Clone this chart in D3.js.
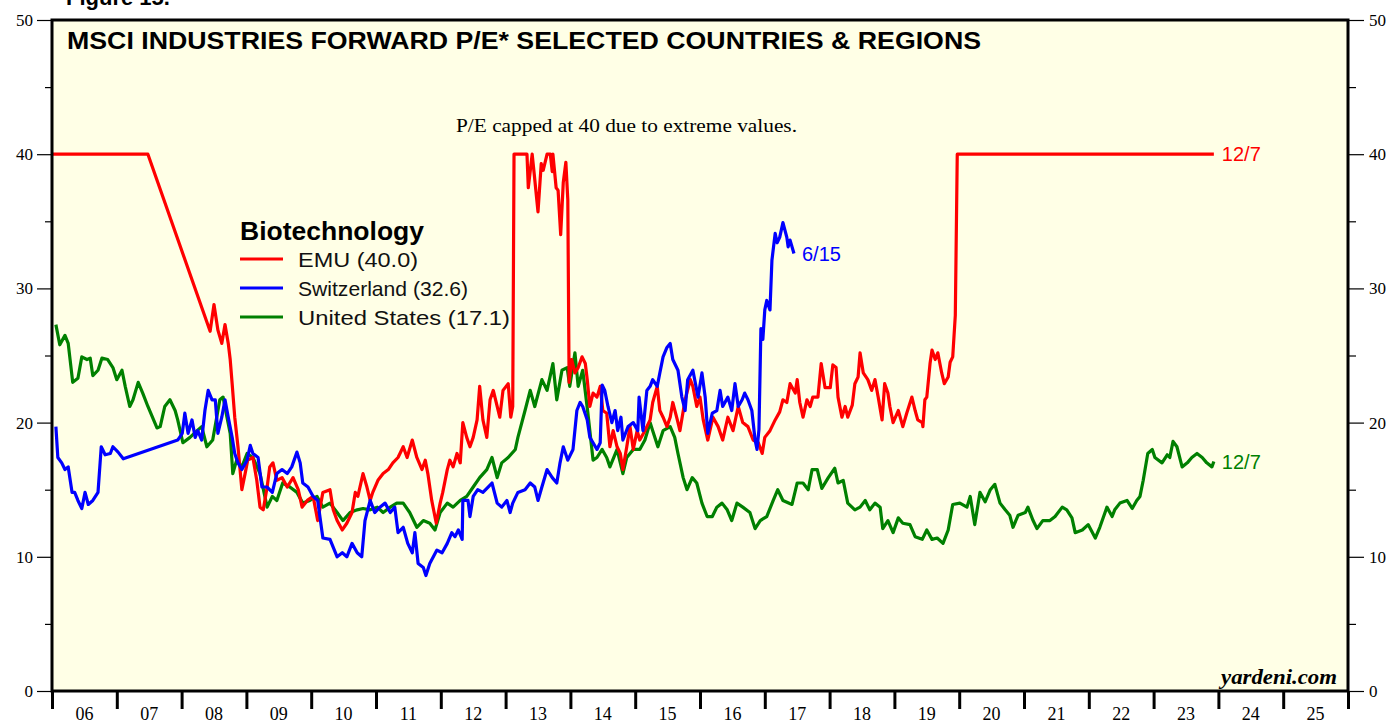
<!DOCTYPE html>
<html><head><meta charset="utf-8">
<script src="https://cdn.jsdelivr.net/npm/d3@7"></script>
<style>body{margin:0;background:#fff}svg{display:block}</style>
</head><body>
<svg id="c" width="1395" height="721"></svg>
<script>
const yearLabels = ["06","07","08","09","10","11","12","13","14","15","16","17","18","19","20","21","22","23","24","25"];
const yTicks = [0,10,20,30,40,50];
const seriesNames = ["EMU (40.0)","Switzerland (32.6)","United States (17.1)"];
const seriesColors = ["#ff0000","#0000ff","#008000"];
const endLabels = ["12/7","6/15","12/7"];

// [decimal year, forward P/E]
const emu = [[2006.0,40],[2007.48,40],[2008.44,26.8],[2008.50,28.8],[2008.56,26.9],[2008.62,25.9],[2008.67,27.3],[2008.72,25.9],[2008.75,24.7],[2008.78,22.9],[2008.82,20.4],[2008.87,18.2],[2008.93,15.0],[2008.98,16.2],[2009.02,17.2],[2009.10,17.4],[2009.16,15.7],[2009.21,13.7],[2009.26,13.5],[2009.32,15.2],[2009.36,16.7],[2009.41,17.0],[2009.47,15.7],[2009.55,15.9],[2009.63,15.2],[2009.72,15.9],[2009.80,15.0],[2009.86,13.7],[2009.94,14.2],[2010.03,14.5],[2010.10,12.7],[2010.18,14.8],[2010.29,15.0],[2010.34,13.5],[2010.40,12.7],[2010.48,12.0],[2010.55,12.5],[2010.63,13.3],[2010.68,14.8],[2010.72,14.5],[2010.80,16.2],[2010.86,15.2],[2010.91,14.2],[2010.95,14.8],[2011.03,15.7],[2011.11,16.2],[2011.19,16.5],[2011.26,17.0],[2011.34,17.4],[2011.42,18.2],[2011.48,17.4],[2011.56,18.7],[2011.63,17.4],[2011.71,16.5],[2011.76,17.2],[2011.80,16.2],[2011.86,14.2],[2011.93,12.5],[2011.99,14.0],[2012.03,14.8],[2012.10,16.5],[2012.14,17.2],[2012.19,16.7],[2012.25,17.7],[2012.30,17.0],[2012.34,20.0],[2012.40,18.9],[2012.45,18.2],[2012.50,18.9],[2012.56,20.2],[2012.60,22.7],[2012.65,20.2],[2012.71,18.9],[2012.76,21.7],[2012.81,22.4],[2012.87,21.2],[2012.91,20.4],[2012.96,22.4],[2013.04,22.9],[2013.08,20.4],[2013.11,21.2],[2013.13,40],[2013.33,40],[2013.35,37.5],[2013.41,40],[2013.44,38.6],[2013.50,35.7],[2013.55,39.3],[2013.58,38.8],[2013.64,40],[2013.69,40],[2013.72,38.7],[2013.73,40],[2013.78,37.5],[2013.81,37.3],[2013.85,34.0],[2013.89,37.9],[2013.93,39.4],[2013.96,36.6],[2013.98,23.0],[2014.02,24.7],[2014.07,23.7],[2014.12,24.1],[2014.18,24.9],[2014.23,24.4],[2014.26,23.2],[2014.30,21.2],[2014.35,22.2],[2014.41,21.9],[2014.46,22.7],[2014.50,20.9],[2014.56,20.7],[2014.61,18.2],[2014.66,19.4],[2014.72,18.2],[2014.77,17.7],[2014.81,16.5],[2014.87,18.2],[2014.92,19.7],[2014.97,18.0],[2015.03,19.4],[2015.07,18.7],[2015.15,19.4],[2015.23,20.2],[2015.27,21.5],[2015.34,22.7],[2015.38,20.9],[2015.43,20.4],[2015.49,19.7],[2015.54,20.4],[2015.58,21.5],[2015.65,20.2],[2015.69,19.4],[2015.77,21.7],[2015.85,23.2],[2015.89,22.7],[2015.95,21.2],[2016.00,21.9],[2016.05,20.2],[2016.12,18.7],[2016.20,20.4],[2016.28,19.7],[2016.35,18.7],[2016.43,20.4],[2016.51,19.4],[2016.59,21.2],[2016.66,20.0],[2016.74,19.7],[2016.82,18.7],[2016.90,18.5],[2016.96,17.7],[2017.00,18.9],[2017.08,19.4],[2017.16,20.2],[2017.23,20.8],[2017.28,21.7],[2017.34,21.5],[2017.39,22.9],[2017.47,22.2],[2017.50,23.2],[2017.54,21.5],[2017.59,20.4],[2017.65,21.7],[2017.70,21.2],[2017.74,21.9],[2017.82,21.9],[2017.87,24.4],[2017.93,22.6],[2018.01,22.6],[2018.05,24.3],[2018.10,24.1],[2018.13,21.9],[2018.19,20.4],[2018.24,21.2],[2018.28,20.4],[2018.35,21.3],[2018.39,22.9],[2018.44,23.4],[2018.47,25.2],[2018.52,23.7],[2018.59,23.2],[2018.65,22.4],[2018.70,23.2],[2018.75,21.9],[2018.81,20.2],[2018.85,22.9],[2018.90,22.2],[2018.93,21.2],[2018.98,20.0],[2019.06,20.9],[2019.13,19.7],[2019.19,20.7],[2019.27,21.9],[2019.32,20.9],[2019.36,20.2],[2019.43,20.0],[2019.44,19.7],[2019.47,21.7],[2019.50,21.9],[2019.55,24.4],[2019.58,25.4],[2019.63,24.7],[2019.67,25.2],[2019.73,23.7],[2019.77,22.9],[2019.83,23.4],[2019.86,24.5],[2019.90,24.9],[2019.94,28.0],[2019.97,40],[2023.93,40]];

const swiss = [[2006.06,19.7],[2006.09,17.4],[2006.15,17.0],[2006.20,16.5],[2006.25,16.7],[2006.31,14.8],[2006.35,14.8],[2006.40,14.2],[2006.46,13.6],[2006.51,14.8],[2006.56,13.9],[2006.63,14.2],[2006.71,14.8],[2006.76,18.2],[2006.82,17.6],[2006.90,17.7],[2006.94,18.2],[2007.02,17.8],[2007.10,17.3],[2007.94,18.7],[2008.01,19.2],[2008.05,20.7],[2008.10,19.2],[2008.16,20.2],[2008.21,18.9],[2008.25,19.4],[2008.31,18.7],[2008.36,20.9],[2008.41,22.4],[2008.47,21.7],[2008.52,21.7],[2008.56,19.2],[2008.62,20.4],[2008.67,21.7],[2008.72,20.4],[2008.78,18.9],[2008.82,17.7],[2008.87,17.0],[2008.93,16.5],[2009.01,17.2],[2009.06,18.3],[2009.10,17.7],[2009.18,17.4],[2009.24,15.2],[2009.32,15.2],[2009.40,14.8],[2009.47,16.2],[2009.55,16.5],[2009.63,16.2],[2009.70,16.7],[2009.78,17.8],[2009.83,17.0],[2009.87,15.5],[2009.95,15.2],[2010.03,14.5],[2010.10,14.2],[2010.18,11.4],[2010.29,11.3],[2010.40,10.0],[2010.48,10.3],[2010.55,10.0],[2010.63,11.0],[2010.71,10.3],[2010.78,10.0],[2010.83,12.7],[2010.91,14.2],[2010.98,13.3],[2011.06,13.7],[2011.14,14.0],[2011.22,13.3],[2011.29,13.7],[2011.34,11.8],[2011.42,12.2],[2011.49,11.0],[2011.56,10.3],[2011.60,11.8],[2011.65,9.5],[2011.73,9.2],[2011.77,8.6],[2011.83,9.5],[2011.94,10.5],[2012.02,10.3],[2012.10,11.0],[2012.17,11.8],[2012.22,11.5],[2012.27,12.0],[2012.33,11.3],[2012.34,14.2],[2012.42,14.2],[2012.45,13.0],[2012.50,14.5],[2012.57,15.0],[2012.65,14.8],[2012.73,15.2],[2012.79,15.5],[2012.87,14.0],[2012.94,13.7],[2013.02,14.2],[2013.07,13.3],[2013.11,14.0],[2013.19,14.8],[2013.30,15.0],[2013.38,15.5],[2013.45,15.2],[2013.50,14.2],[2013.56,15.2],[2013.64,16.5],[2013.72,15.9],[2013.79,15.5],[2013.84,17.0],[2013.89,18.2],[2013.96,17.2],[2014.04,18.0],[2014.10,20.9],[2014.15,21.5],[2014.19,21.2],[2014.26,20.2],[2014.30,18.9],[2014.35,18.5],[2014.41,18.0],[2014.46,18.5],[2014.49,22.8],[2014.53,22.4],[2014.58,21.2],[2014.64,20.0],[2014.69,20.9],[2014.73,19.4],[2014.78,20.4],[2014.81,18.7],[2014.89,19.7],[2014.97,20.0],[2015.04,19.4],[2015.06,21.9],[2015.12,19.4],[2015.18,22.4],[2015.23,22.7],[2015.27,23.2],[2015.34,22.7],[2015.38,23.7],[2015.43,24.9],[2015.49,25.6],[2015.54,25.9],[2015.58,24.7],[2015.66,23.9],[2015.72,21.9],[2015.77,20.9],[2015.81,23.2],[2015.89,23.9],[2015.97,21.9],[2016.03,23.7],[2016.08,21.9],[2016.12,19.2],[2016.19,20.7],[2016.26,20.9],[2016.31,22.4],[2016.35,21.2],[2016.43,21.9],[2016.49,20.9],[2016.54,22.9],[2016.59,21.2],[2016.65,21.7],[2016.69,22.2],[2016.74,21.7],[2016.80,20.9],[2016.85,18.7],[2016.88,18.0],[2016.91,19.5],[2016.94,27.0],[2016.97,26.2],[2017.00,28.4],[2017.03,29.1],[2017.08,28.4],[2017.11,32.1],[2017.16,34.1],[2017.19,33.4],[2017.23,33.8],[2017.28,34.9],[2017.34,33.8],[2017.36,33.1],[2017.39,33.6],[2017.45,32.6]];

const us = [[2006.06,27.3],[2006.12,25.8],[2006.20,26.5],[2006.25,25.9],[2006.32,23.0],[2006.40,23.3],[2006.46,24.9],[2006.54,24.7],[2006.59,24.8],[2006.63,23.5],[2006.71,23.9],[2006.77,24.8],[2006.86,24.7],[2006.94,24.1],[2007.00,23.2],[2007.08,23.9],[2007.13,22.7],[2007.20,21.2],[2007.25,21.7],[2007.33,23.0],[2007.40,22.2],[2007.48,21.2],[2007.62,19.6],[2007.67,19.7],[2007.74,21.2],[2007.82,21.7],[2007.90,20.9],[2007.94,20.2],[2008.02,18.5],[2008.13,18.9],[2008.24,19.4],[2008.31,19.7],[2008.39,18.2],[2008.48,18.7],[2008.59,21.7],[2008.64,21.9],[2008.70,20.4],[2008.75,19.2],[2008.79,16.2],[2008.85,17.2],[2008.93,16.7],[2009.01,17.7],[2009.10,17.4],[2009.21,16.2],[2009.32,13.7],[2009.40,14.5],[2009.47,14.2],[2009.56,15.5],[2009.67,15.2],[2009.78,14.8],[2009.87,14.0],[2009.98,14.2],[2010.09,14.5],[2010.18,13.7],[2010.29,14.0],[2010.40,13.3],[2010.49,12.7],[2010.60,13.3],[2010.71,13.5],[2010.80,13.6],[2010.91,13.5],[2011.02,13.7],[2011.11,13.3],[2011.22,13.7],[2011.32,14.0],[2011.42,14.0],[2011.52,13.3],[2011.63,12.2],[2011.73,12.7],[2011.83,12.5],[2011.91,12.0],[2011.99,13.3],[2012.10,14.0],[2012.19,13.7],[2012.30,14.2],[2012.40,14.5],[2012.50,15.2],[2012.60,15.9],[2012.71,16.5],[2012.79,17.4],[2012.87,15.9],[2012.94,17.0],[2013.04,17.4],[2013.15,18.0],[2013.19,18.9],[2013.30,20.9],[2013.38,22.4],[2013.45,21.2],[2013.56,23.2],[2013.64,22.4],[2013.73,24.4],[2013.79,21.7],[2013.87,23.9],[2013.95,24.1],[2013.99,22.7],[2014.07,25.2],[2014.12,22.7],[2014.19,23.9],[2014.27,20.7],[2014.35,17.2],[2014.41,17.4],[2014.49,18.0],[2014.56,17.4],[2014.61,16.7],[2014.72,18.0],[2014.81,16.2],[2014.87,17.4],[2014.97,18.0],[2015.07,18.0],[2015.15,18.7],[2015.23,20.0],[2015.27,19.4],[2015.35,18.2],[2015.43,19.4],[2015.54,19.7],[2015.61,18.9],[2015.66,17.7],[2015.74,15.9],[2015.80,15.0],[2015.88,15.9],[2015.95,15.5],[2016.03,14.0],[2016.11,13.0],[2016.19,13.0],[2016.26,13.7],[2016.34,14.0],[2016.42,13.5],[2016.49,12.7],[2016.57,14.0],[2016.66,13.7],[2016.77,13.3],[2016.85,12.1],[2016.93,12.7],[2017.03,13.0],[2017.13,14.2],[2017.20,15.0],[2017.28,14.2],[2017.42,13.9],[2017.50,15.5],[2017.59,15.5],[2017.67,15.0],[2017.73,16.5],[2017.81,16.5],[2017.88,15.1],[2017.98,15.9],[2018.08,16.6],[2018.13,15.5],[2018.21,15.7],[2018.28,14.0],[2018.39,13.5],[2018.47,13.7],[2018.55,14.2],[2018.62,13.5],[2018.70,14.0],[2018.78,13.7],[2018.82,12.1],[2018.90,12.7],[2018.98,11.8],[2019.06,12.9],[2019.13,12.5],[2019.24,12.4],[2019.32,11.5],[2019.43,11.3],[2019.50,12.0],[2019.58,11.3],[2019.66,11.4],[2019.75,11.0],[2019.83,12.0],[2019.90,13.9],[2020.01,14.0],[2020.12,13.7],[2020.17,14.5],[2020.24,12.4],[2020.32,14.8],[2020.40,14.1],[2020.48,15.0],[2020.55,15.4],[2020.63,14.0],[2020.71,13.5],[2020.78,13.1],[2020.83,12.2],[2020.91,13.1],[2021.02,13.3],[2021.06,13.7],[2021.14,12.7],[2021.20,12.1],[2021.29,12.7],[2021.40,12.7],[2021.48,13.0],[2021.59,13.7],[2021.66,13.5],[2021.74,12.9],[2021.79,11.8],[2021.90,12.0],[2021.99,12.4],[2022.10,11.4],[2022.17,12.2],[2022.28,13.7],[2022.36,13.0],[2022.40,13.5],[2022.48,14.0],[2022.59,14.2],[2022.67,13.6],[2022.74,14.2],[2022.79,14.5],[2022.84,15.7],[2022.91,17.7],[2022.98,18.0],[2023.02,17.4],[2023.13,17.0],[2023.21,17.6],[2023.25,17.4],[2023.30,18.6],[2023.36,18.2],[2023.44,16.7],[2023.52,17.0],[2023.59,17.4],[2023.67,17.7],[2023.75,17.4],[2023.82,17.0],[2023.90,16.7],[2023.93,17.1]];

const series = [emu, swiss, us];

const svg = d3.select("#c");
const L = 52, R = 1348, T = 20, B = 691;
const x = d3.scaleLinear().domain([2006, 2026]).range([L, R]);
const y = d3.scaleLinear().domain([0, 50]).range([B, T]);
const SANS = "Arial, Liberation Sans, sans-serif";
const SERIF = "Liberation Serif, Times New Roman, serif";

svg.append("rect").attr("x", L).attr("y", T).attr("width", R - L).attr("height", B - T).attr("fill", "#ffffe6");

// Figure label (cut off at top)
svg.append("text").attr("x", 66).attr("y", 5).attr("font-family", SANS)
  .attr("font-weight", "bold").attr("font-size", 22).attr("fill", "#000").text("Figure 15.");

// left & right axes
const yAxisL = d3.axisLeft(y).tickValues(d3.range(0, 51, 5)).tickSize(0).tickFormat(d => d % 10 === 0 ? d : "");
const gL = svg.append("g").attr("transform", `translate(${L},0)`).call(yAxisL);
gL.select(".domain").remove();
gL.selectAll(".tick line").attr("x2", d => d % 10 === 0 ? -15 : -7).attr("stroke", "#000").attr("stroke-width", 1.2);
gL.selectAll(".tick text").attr("x", -19).attr("font-family", SERIF).attr("font-size", 17).attr("fill", "#000");

const yAxisR = d3.axisRight(y).tickValues(d3.range(0, 51, 5)).tickSize(0).tickFormat(d => d % 10 === 0 ? d : "");
const gR = svg.append("g").attr("transform", `translate(${R},0)`).call(yAxisR);
gR.select(".domain").remove();
gR.selectAll(".tick line").attr("x2", d => d % 10 === 0 ? 16 : 8).attr("stroke", "#000").attr("stroke-width", 1.2);
gR.selectAll(".tick text").attr("x", 21).attr("font-family", SERIF).attr("font-size", 17).attr("fill", "#000");

// bottom axis: ticks at year boundaries, labels centered between them
const gB = svg.append("g").attr("transform", `translate(0,${B})`);
gB.call(d3.axisBottom(x).tickValues(d3.range(2006, 2027)).tickSize(18).tickFormat(""));
gB.select(".domain").remove();
gB.selectAll(".tick line").attr("stroke", "#000").attr("stroke-width", 3);
svg.append("g").selectAll("text").data(yearLabels).enter().append("text")
  .attr("x", (d, i) => x(2006.5 + i)).attr("y", B + 29).attr("text-anchor", "middle")
  .attr("font-family", SERIF).attr("font-size", 18).attr("fill", "#000").text(d => d);

// series lines
const line = d3.line().x(d => x(d[0])).y(d => y(d[1]));
const plot = svg.append("g");
[2, 0, 1].forEach(i => {
  plot.append("path").datum(series[i]).attr("d", line).attr("fill", "none")
    .attr("stroke", seriesColors[i]).attr("stroke-width", 3.2).attr("stroke-linejoin", "round");
});

// end labels
series.forEach((s, i) => {
  const last = s[s.length - 1];
  svg.append("text").attr("x", x(last[0]) + 8).attr("y", y(last[1]) + 7)
    .attr("font-family", SANS).attr("font-size", 20)
    .attr("fill", seriesColors[i]).text(endLabels[i]);
});

// frame
svg.append("rect").attr("x", L).attr("y", T).attr("width", R - L).attr("height", B - T)
  .attr("fill", "none").attr("stroke", "#000").attr("stroke-width", 3);

// title
svg.append("text").attr("x", 67).attr("y", 49).attr("font-family", SANS)
  .attr("font-weight", "bold").attr("font-size", 24).attr("textLength", 914).attr("lengthAdjust", "spacingAndGlyphs")
  .text("MSCI INDUSTRIES FORWARD P/E* SELECTED COUNTRIES & REGIONS");

// annotation
svg.append("text").attr("x", 456).attr("y", 132)
  .attr("font-family", SERIF).attr("font-size", 19).attr("textLength", 341).attr("lengthAdjust", "spacingAndGlyphs")
  .text("P/E capped at 40 due to extreme values.");

// legend
const legendLen = [120, 170, 212];
const lg = svg.append("g");
lg.append("text").attr("x", 240).attr("y", 240).attr("font-family", SANS)
  .attr("font-weight", "bold").attr("font-size", 25).attr("textLength", 184).attr("lengthAdjust", "spacingAndGlyphs").text("Biotechnology");
seriesNames.forEach((n, i) => {
  const yy = 259 + i * 29;
  lg.append("line").attr("x1", 240).attr("x2", 283).attr("y1", yy).attr("y2", yy)
    .attr("stroke", seriesColors[i]).attr("stroke-width", 3);
  lg.append("text").attr("x", 298).attr("y", yy + 8).attr("font-family", SANS)
    .attr("font-size", 21).attr("fill", "#111").attr("textLength", legendLen[i]).attr("lengthAdjust", "spacingAndGlyphs").text(n);
});

// source
svg.append("text").attr("x", 1221).attr("y", 684)
  .attr("font-family", SERIF).attr("font-weight", "bold")
  .attr("font-style", "italic").attr("font-size", 21).attr("textLength", 116).attr("lengthAdjust", "spacingAndGlyphs").text("yardeni.com");
</script>
</body></html>
